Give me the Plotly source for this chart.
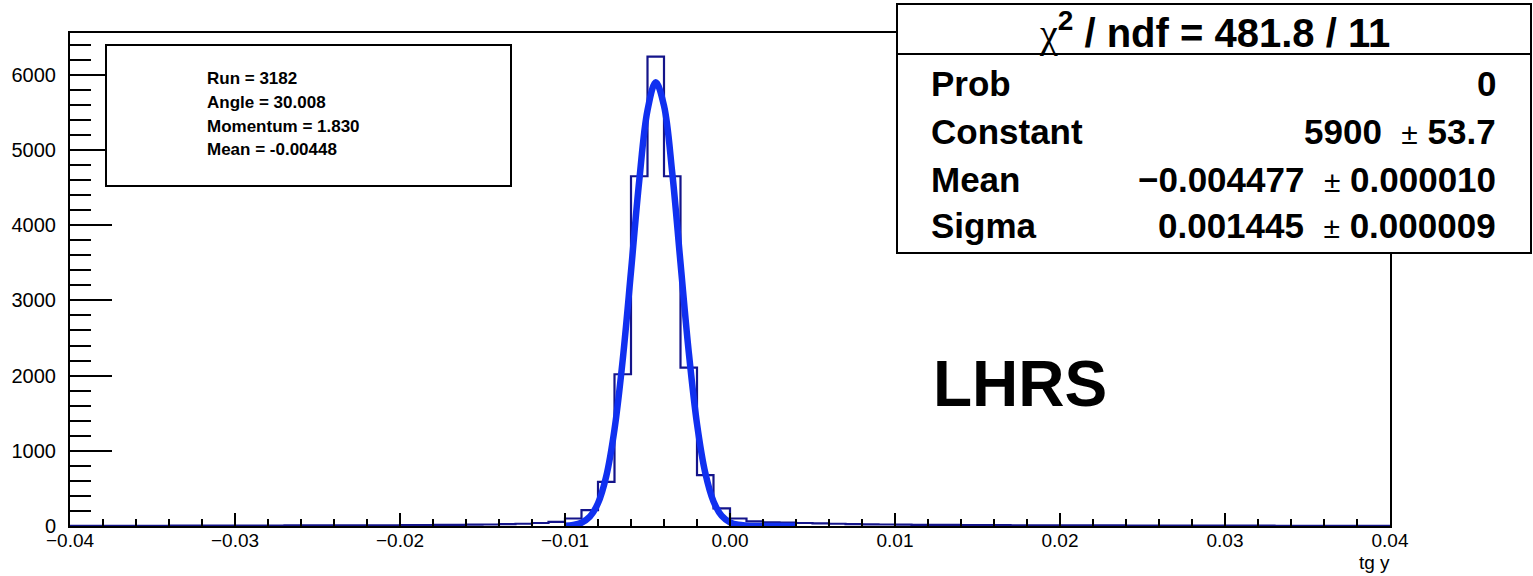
import numpy as np
import plotly.graph_objects as go

# ---------------- data ----------------
hist_range = [-0.04, 0.04]
n_bins = 80
counts = [1, 1, 2, 2, 3, 3, 4, 4, 5, 5,
          5, 6, 6, 7, 7, 8, 8, 9, 10, 10,
          12, 13, 14, 16, 18, 20, 24, 30, 40, 55,
          100, 212, 588, 2018, 4650, 6240, 4650, 2107, 677, 235,
          100, 62, 50, 45, 40, 35, 30, 26, 22, 20,
          18, 16, 15, 14, 13, 12, 11, 10, 9, 9,
          8, 8, 7, 7, 6, 6, 6, 5, 5, 5,
          4, 4, 4, 3, 3, 3, 3, 2, 2, 2]

fit_x = [-0.0100, -0.0095, -0.0090, -0.0085, -0.0080, -0.0075, -0.0070, -0.0065,
         -0.0060, -0.0055, -0.0050, -0.0045, -0.0040, -0.0035, -0.0030, -0.0025,
         -0.0020, -0.0015, -0.0010, -0.0005, 0.0000, 0.0005, 0.0010, 0.0015,
         0.0020, 0.0030, 0.0040]
fit_y = [4, 14, 44, 122, 302, 662, 1285, 2214,
         3385, 4592, 5526, 5900, 5587, 4695, 3499, 2314,
         1358, 707, 326, 134, 49, 16, 5, 1,
         0, 0, 0]

x_tickvals = [-0.04, -0.03, -0.02, -0.01, 0.0, 0.01, 0.02, 0.03, 0.04]
x_ticktext = ["\u22120.04", "\u22120.03", "\u22120.02", "\u22120.01", "0.00",
              "0.01", "0.02", "0.03", "0.04"]
y_tickvals = [0, 1000, 2000, 3000, 4000, 5000, 6000]
y_max = 6555

info_lines = ["Run = 3182", "Angle = 30.008", "Momentum = 1.830", "Mean = -0.00448"]
stat_names = ["Prob", "Constant", "Mean", "Sigma"]
stat_vals = ["0", "5900", "\u22120.004477", "0.001445"]
stat_errs = [None, "53.7", "0.000010", "0.000009"]
x_title = "tg y"
label_text = "LHRS"

# ---------------- layout helpers ----------------
W, H = 1533, 576
L, R, T, B = 70, 1390, 33, 526
FONT = "Liberation Sans, Arial, Helvetica, sans-serif"


def px(x):
    return (x - L) / (R - L)


def py(y):
    return (B - y) / (B - T)


edges = np.linspace(hist_range[0], hist_range[1], n_bins + 1)
step_y = list(counts) + [counts[-1]]

fig = go.Figure()
fig.add_trace(go.Scatter(
    x=edges, y=step_y, mode="lines", line=dict(shape="hv", color="#14148a", width=2.2),
    hoverinfo="skip", showlegend=False))
fig.add_trace(go.Scatter(
    x=fit_x, y=fit_y, mode="lines", line=dict(shape="spline", color="#1030f0", width=6.5),
    hoverinfo="skip", showlegend=False))

shapes = [
    # info box
    dict(type="rect", xref="paper", yref="paper", x0=px(106), x1=px(511), y0=py(186), y1=py(45),
         line=dict(color="black", width=2), fillcolor="white", layer="above"),
    # stats box
    dict(type="rect", xref="paper", yref="paper", x0=px(897), x1=px(1531), y0=py(253), y1=py(4),
         line=dict(color="black", width=2), fillcolor="white", layer="above"),
    dict(type="line", xref="paper", yref="paper", x0=px(897), x1=px(1531), y0=py(54), y1=py(54),
         line=dict(color="black", width=2), layer="above"),
]

annotations = []
info_y = [79, 102, 126, 149.5]
for txt, yy in zip(info_lines, info_y):
    annotations.append(dict(xref="paper", yref="paper", x=px(205), y=py(yy), text=txt,
                            xanchor="left", yanchor="middle", showarrow=False,
                            font=dict(family=FONT, size=17, color="black", weight="bold")))

annotations.append(dict(
    xref="paper", yref="paper", x=px(1214), y=py(30),
    text="<span style='font-family:Liberation Serif,Times New Roman,serif;font-weight:normal'>\u03c7</span>"
         "<sup>2</sup> / ndf = 481.8 / 11",
    xanchor="center", yanchor="middle", showarrow=False,
    font=dict(family=FONT, size=40, color="black", weight="bold")))

row_y = [83, 131, 179, 226]
for name, val, err, yy in zip(stat_names, stat_vals, stat_errs, row_y):
    annotations.append(dict(xref="paper", yref="paper", x=px(929), y=py(yy), text=name,
                            xanchor="left", yanchor="middle", showarrow=False,
                            font=dict(family=FONT, size=35, color="black", weight="bold")))
    if err is None:
        t = val
    else:
        t = (val + "\u00a0\u00a0<span style='font-size:30px;font-weight:normal'>\u00b1</span>\u00a0" + err)
    annotations.append(dict(xref="paper", yref="paper", x=px(1498), y=py(yy), text=t,
                            xanchor="right", yanchor="middle", showarrow=False,
                            font=dict(family=FONT, size=35, color="black", weight="bold")))

annotations.append(dict(xref="paper", yref="paper", x=px(1020), y=py(384), text=label_text,
                        xanchor="center", yanchor="middle", showarrow=False,
                        font=dict(family=FONT, size=64, color="black", weight="bold")))
annotations.append(dict(xref="paper", yref="paper", x=px(1392), y=py(562), text=x_title,
                        xanchor="right", yanchor="middle", showarrow=False,
                        font=dict(family=FONT, size=19, color="black")))

fig.update_layout(
    width=W, height=H,
    margin=dict(l=L, r=W - R, t=T, b=H - B, pad=0),
    paper_bgcolor="white", plot_bgcolor="white",
    showlegend=False,
    shapes=shapes, annotations=annotations,
    xaxis=dict(range=hist_range, tickvals=x_tickvals, ticktext=x_ticktext,
               ticks="inside", ticklen=13, tickwidth=2, tickcolor="black",
               minor=dict(dtick=0.002, ticks="inside", ticklen=7, tickwidth=2, tickcolor="black"),
               showline=True, linecolor="black", linewidth=2, mirror=True,
               showgrid=False, zeroline=False, ticklabelstandoff=-4,
               tickfont=dict(family=FONT, size=19, color="black")),
    yaxis=dict(range=[0, y_max], tickvals=y_tickvals,
               ticks="inside", ticklen=42, tickwidth=2, tickcolor="black",
               minor=dict(dtick=200, ticks="inside", ticklen=21, tickwidth=2, tickcolor="black"),
               showline=True, linecolor="black", linewidth=2, mirror=True,
               showgrid=False, zeroline=False, ticklabelstandoff=8,
               tickfont=dict(family=FONT, size=20, color="black")),
)

fig.write_html("out.html")
